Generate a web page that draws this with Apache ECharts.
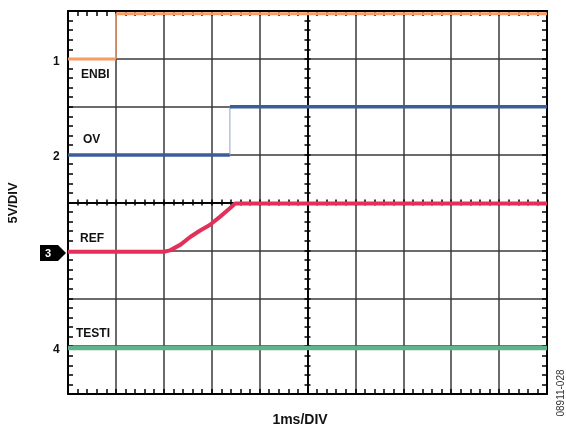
<!DOCTYPE html>
<html>
<head>
<meta charset="utf-8">
<script src="https://cdn.jsdelivr.net/npm/echarts@6/dist/echarts.min.js"></script>
<style>
    html, body {margin: 0; padding: 0; background: #fff;}
    #chart {width: 566px; height: 430px;}
</style>
</head>
<body>
<div id="chart"></div>
<script>
// x in ms (1 division = 1ms), y in screen divisions (0 = bottom, 8 = top)
const enbiLow = [[0, 7.0], [1.0, 7.0]];
const enbiHigh = [[1.0, 7.94], [10, 7.94]];
const ovLow = [[0, 4.99], [3.38, 4.99]];
const ovHigh = [[3.38, 6.0], [10, 6.0]];
const refTrace = [[0, 2.97], [2.0, 2.97], [2.13, 3.0], [2.35, 3.12], [2.55, 3.28], [2.75, 3.41],
    [2.96, 3.53], [3.17, 3.70], [3.38, 3.88], [3.49, 3.98], [10, 3.98]];
const testiTrace = [[0, 0.96], [10, 0.96]];

const channelLabels = ['1', '2', '3', '4'];
const traceNames = ['ENBI', 'OV', 'REF', 'TESTI'];

const colors = {enbi: '#F79B62', ov: '#3C5D9B', ovEdge: '#8FA5CC', ref: '#E2305A', testi: '#5DB48A'};
const font = '"Liberation Sans", Arial, sans-serif';

const chart = echarts.init(document.getElementById('chart'));

function xAx(position, offset, inside, len, split) {
    return {
        type: 'value', min: 0, max: 10, interval: 1, position, offset,
        axisLine: {show: true, onZero: false, lineStyle: {color: '#000', width: offset ? 1.5 : 2}},
        axisTick: {show: true, inside, length: len, lineStyle: {color: '#000', width: 1.5}},
        minorTick: {show: true, splitNumber: 5, length: len, lineStyle: {color: '#000', width: 1.5}},
        axisLabel: {show: false},
        splitLine: {show: split, lineStyle: {color: '#3a3a3a', width: 1.5}},
        minorSplitLine: {show: false}
    };
}

function yAx(position, offset, inside, len, split) {
    return Object.assign(xAx(position, offset, inside, len, split), {min: 0, max: 8});
}

const text = (x, y, str, size, extra) => ({
    type: 'text', x, y,
    style: Object.assign({text: str, font: 'bold ' + size + 'px ' + font, fill: '#111',
        textAlign: 'left', textVerticalAlign: 'middle'}, extra || {})
});

const line = (data, color, width) => ({
    type: 'line', data, showSymbol: false, silent: true,
    lineStyle: {color, width}, xAxisIndex: 0, yAxisIndex: 0
});

chart.setOption({
    animation: false,
    grid: {left: 68, right: 19, top: 11, bottom: 36},
    xAxis: [
        xAx('bottom', 0, true, 5, true),
        xAx('top', 0, true, 5, false),
        xAx('bottom', -191.5, true, 3, false),
        xAx('bottom', -191.5, false, 3, false)
    ],
    yAxis: [
        yAx('left', 0, true, 5, true),
        yAx('right', 0, true, 5, false),
        yAx('left', -239.5, true, 3, false),
        yAx('left', -239.5, false, 3, false)
    ],
    series: [
        line(enbiLow, colors.enbi, 3),
        line([enbiLow[1], enbiHigh[0]], colors.enbi, 1.5),
        line(enbiHigh, colors.enbi, 3),
        line(ovLow, colors.ov, 3.5),
        line([ovLow[1], ovHigh[0]], colors.ovEdge, 1),
        line(ovHigh, colors.ov, 3.5),
        line(refTrace, colors.ref, 4),
        line(testiTrace, colors.testi, 4.5)
    ],
    graphic: [
        text(53, 62, channelLabels[0], 12),
        text(81, 75, traceNames[0], 12),
        text(83, 140, traceNames[1], 12),
        text(53, 157, channelLabels[1], 12),
        text(80, 239, traceNames[2], 12),
        {type: 'polygon', shape: {points: [[40, 245], [58, 245], [66, 253], [58, 261], [40, 261]]},
            style: {fill: '#000'}},
        text(45, 253.5, channelLabels[2], 11, {fill: '#fff'}),
        text(76, 334, traceNames[3], 12),
        text(53, 350, channelLabels[3], 12),
        text(300, 420, '1ms/DIV', 14, {textAlign: 'center'}),
        {type: 'text', x: 13, y: 203, rotation: Math.PI / 2,
            style: {text: '5V/DIV', font: 'bold 13px ' + font, fill: '#111',
                textAlign: 'center', textVerticalAlign: 'middle'}},
        {type: 'text', x: 561, y: 393, rotation: Math.PI / 2,
            style: {text: '08911-028', font: '10px ' + font, fill: '#333',
                textAlign: 'center', textVerticalAlign: 'middle'}}
    ]
});
</script>
</body>
</html>
